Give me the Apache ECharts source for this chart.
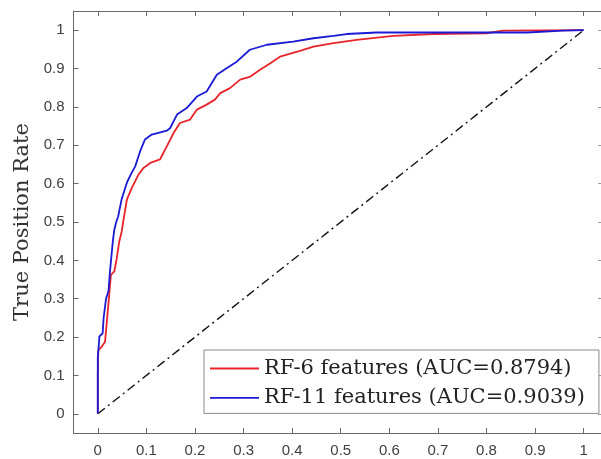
<!DOCTYPE html>
<html>
<head>
<meta charset="utf-8">
<script src="https://cdn.jsdelivr.net/npm/echarts@6/dist/echarts.min.js"></script>
<style>
  html, body { margin: 0; padding: 0; background: #fff; }
  #roc-chart { width: 601px; height: 459px; }
</style>
</head>
<body>
<div id="roc-chart"></div>
<script>
// tick positions (both axes)
const tickValues = [0, 0.1, 0.2, 0.3, 0.4, 0.5, 0.6, 0.7, 0.8, 0.9, 1]
const seriesNames = ['RF-6 features (AUC=0.8794)', 'RF-11 features (AUC=0.9039)']

// RF-6: [false positive rate, true positive rate]
const rf6Points = [
  [0, 0], [0, 0.1], [0.001, 0.165], [0.008, 0.175], [0.015, 0.188], [0.018, 0.232],
  [0.022, 0.288], [0.027, 0.362], [0.034, 0.371], [0.039, 0.405], [0.044, 0.448],
  [0.049, 0.474], [0.053, 0.506], [0.06, 0.559], [0.07, 0.589], [0.084, 0.624],
  [0.094, 0.641], [0.108, 0.654], [0.128, 0.663], [0.142, 0.697], [0.156, 0.732],
  [0.169, 0.758], [0.19, 0.767], [0.204, 0.793], [0.224, 0.806], [0.241, 0.819],
  [0.252, 0.836], [0.272, 0.849], [0.293, 0.871], [0.314, 0.879], [0.334, 0.897],
  [0.355, 0.914], [0.375, 0.931], [0.416, 0.946], [0.444, 0.957], [0.485, 0.966],
  [0.533, 0.975], [0.608, 0.985], [0.691, 0.99], [0.8, 0.992], [0.834, 0.999], [1, 1]
]

// RF-11
const rf11Points = [
  [0, 0], [0, 0.147], [0.003, 0.194], [0.003, 0.201], [0.01, 0.21], [0.012, 0.25],
  [0.017, 0.3], [0.022, 0.32], [0.025, 0.37], [0.031, 0.45], [0.034, 0.48],
  [0.038, 0.5], [0.042, 0.515], [0.049, 0.559], [0.06, 0.603], [0.068, 0.624],
  [0.077, 0.645], [0.087, 0.684], [0.097, 0.715], [0.111, 0.728], [0.142, 0.738],
  [0.149, 0.745], [0.163, 0.78], [0.183, 0.797], [0.204, 0.827], [0.224, 0.84],
  [0.245, 0.884], [0.265, 0.901], [0.286, 0.918], [0.313, 0.949], [0.348, 0.962],
  [0.402, 0.97], [0.444, 0.979], [0.485, 0.985], [0.512, 0.99], [0.574, 0.994],
  [0.883, 0.994], [0.958, 0.999], [1, 1]
]

// chance line
const chancePoints = [[0, 0], [1, 1]]

const axisGray = '#6a6a6a'
const labelGray = '#404040'

function tickFormat (v) {
  return String(v)
}

const rocChart = echarts.init(document.getElementById('roc-chart'))
const rocChartOpt = {
  animation: false,
  grid: {
    left: 73.5,
    right: -2.1,
    top: 11,
    bottom: 26,
    outerBoundsMode: 'none'
  },
  legend: {
    data: seriesNames,
    orient: 'vertical',
    left: 204,
    top: 350,
    padding: [8, 14, 5, 6],
    icon: 'rect',
    itemWidth: 49,
    itemHeight: 1.8,
    itemGap: 8.4,
    backgroundColor: '#fff',
    borderColor: '#8a8a8a',
    borderWidth: 1,
    textStyle: {
      fontFamily: 'DejaVu Serif',
      fontSize: 21,
      lineHeight: 20,
      height: 20,
      color: '#222'
    }
  },
  xAxis: [{
    type: 'value',
    min: -0.05,
    max: 1.04,
    position: 'bottom',
    splitLine: { show: false },
    axisLine: { onZero: false, lineStyle: { color: axisGray, width: 1 } },
    axisTick: { inside: true, length: 5, customValues: tickValues, lineStyle: { color: axisGray } },
    axisLabel: {
      customValues: tickValues,
      formatter: tickFormat,
      margin: 10,
      color: labelGray,
      fontFamily: 'Liberation Sans',
      fontSize: 15
    }
  }, {
    type: 'value',
    min: -0.05,
    max: 1.04,
    position: 'top',
    splitLine: { show: false },
    axisLine: { onZero: false, lineStyle: { color: axisGray, width: 1 } },
    axisTick: { inside: true, length: 5, customValues: tickValues, lineStyle: { color: axisGray } },
    axisLabel: { show: false }
  }],
  yAxis: [{
    type: 'value',
    min: -0.05,
    max: 1.05,
    position: 'left',
    name: 'True Position Rate',
    nameLocation: 'middle',
    nameGap: 31,
    nameTextStyle: {
      fontFamily: 'DejaVu Serif',
      fontSize: 21,
      color: '#333'
    },
    splitLine: { show: false },
    axisLine: { onZero: false, lineStyle: { color: axisGray, width: 1 } },
    axisTick: { inside: true, length: 5, customValues: tickValues, lineStyle: { color: axisGray } },
    axisLabel: {
      customValues: tickValues,
      formatter: tickFormat,
      margin: 9,
      color: labelGray,
      fontFamily: 'Liberation Sans',
      fontSize: 15
    }
  }, {
    type: 'value',
    min: -0.05,
    max: 1.05,
    position: 'right',
    splitLine: { show: false },
    axisLine: { show: false, onZero: false },
    axisTick: { inside: true, length: 5, customValues: tickValues, lineStyle: { color: '#9a9a9a' } },
    axisLabel: { show: false }
  }],
  series: [{
    name: 'chance',
    type: 'line',
    data: chancePoints,
    symbol: 'none',
    silent: true,
    z: 1,
    lineStyle: { color: '#111', width: 1.4, type: [9, 4, 2, 4] }
  }, {
    name: seriesNames[0],
    type: 'line',
    data: rf6Points,
    symbol: 'none',
    z: 2,
    itemStyle: { color: '#e8242a' },
    lineStyle: { color: '#e8242a', width: 1.8 }
  }, {
    name: seriesNames[1],
    type: 'line',
    data: rf11Points,
    symbol: 'none',
    z: 3,
    itemStyle: { color: '#1a1ad6' },
    lineStyle: { color: '#1a1ad6', width: 1.8 }
  }]
}
rocChart.setOption(rocChartOpt)
</script>
</body>
</html>
